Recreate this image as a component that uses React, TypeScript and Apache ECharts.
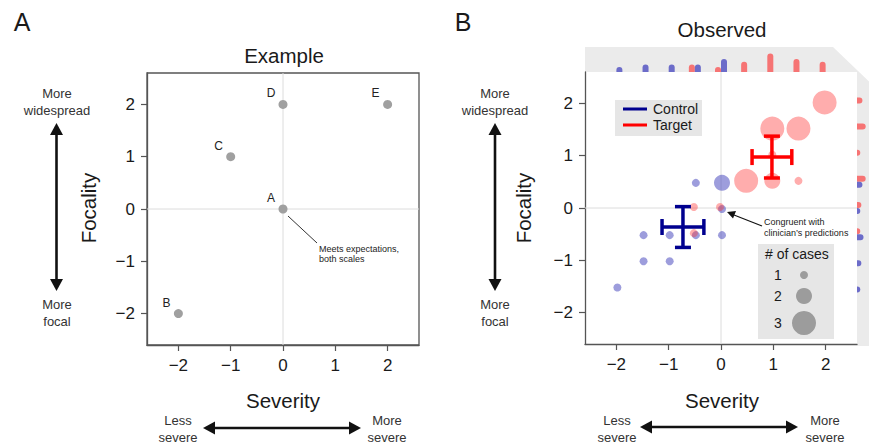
import React, { useEffect, useRef } from 'react';
import * as echarts from 'echarts';

// ---------- Panel A: Example ----------
const exampleLabels = ['A', 'B', 'C', 'D', 'E'];
const exampleSeverity = [0, -2, -1, 0, 2];
const exampleFocality = [0, -2, 1, 2, 2];

// ---------- Panel B: Observed ----------
const controlSeverity = [-2, -1.5, -1.5, -1, -1, -0.5, -0.5, 0, 0, 0];
const controlFocality = [-1.5, -0.5, -1, -0.5, -1, 0.5, -0.5, -0.5, 0.5, 0];
const controlCases = [1, 1, 1, 1, 1, 1, 1, 1, 2, 1];

const targetSeverity = [-0.5, -0.5, 0, 0.5, 1, 1, 1, 1.5, 1.5, 2];
const targetFocality = [0, -0.5, 0, 0.5, 0.5, 1, 1.5, 0.5, 1.5, 2];
const targetCases = [1, 1, 1, 3, 2, 1, 3, 1, 3, 3];

const controlSem = [0.4, 0.39];
const targetSem = [0.38, 0.4];

const tickValues = [-2, -1, 0, 1, 2];
const legendCases = [1, 2, 3];

const AX_MIN = -2.6;
const AX_MAX = 2.6;

const FONT = 'Liberation Sans';
const BLUE_PT = 'rgba(60,60,185,0.5)';
const RED_PT = 'rgba(255,50,50,0.4)';
const BLUE_BAR = '#6c6cc9';
const RED_BAR = '#f67474';
const BLUE_EB = '#00008f';
const RED_EB = '#ff0000';

const wmean = (v: number[], w: number[]) => {
  let s = 0, n = 0;
  v.forEach((x, i) => { s += x * w[i]; n += w[i]; });
  return s / n;
};

const histogram = (v: number[], w: number[]) => {
  const m = new Map<number, number>();
  v.forEach((x, i) => m.set(x, (m.get(x) || 0) + w[i]));
  return Array.from(m.entries()).sort((a, b) => a[0] - b[0]);
};

const fmt = (v: number) => (v < 0 ? '\u2212' + Math.abs(v) : String(v));

const valueAxis = (grid: number) => ({
  type: 'value',
  gridIndex: grid,
  min: AX_MIN,
  max: AX_MAX,
  axisLine: { show: true, onZero: false, lineStyle: { color: '#555', width: 1.3 } },
  axisTick: { show: true, customValues: tickValues, length: 6, lineStyle: { color: '#555', width: 1.2 } },
  axisLabel: { show: true, customValues: tickValues, formatter: fmt, fontSize: 17, color: '#1a1a1a', margin: 12, fontFamily: FONT },
  splitLine: { show: false },
});

const hiddenAxis = (grid: number, min: number, max: number) => ({
  type: 'value', gridIndex: grid, min, max, show: false,
  axisLine: { show: false }, axisTick: { show: false }, axisLabel: { show: false }, splitLine: { show: false },
});

const zeroLines = (idx: number) => ({
  type: 'custom',
  xAxisIndex: idx,
  yAxisIndex: idx,
  z: 1,
  silent: true,
  data: [[0, 0]],
  renderItem: (params: any, api: any) => {
    const p = api.coord([0, 0]);
    const cs = params.coordSys;
    return {
      type: 'group',
      children: [
        { type: 'line', shape: { x1: p[0], y1: cs.y, x2: p[0], y2: cs.y + cs.height }, style: { stroke: '#dcdcdc', lineWidth: 1 } },
        { type: 'line', shape: { x1: cs.x, y1: p[1], x2: cs.x + cs.width, y2: p[1] }, style: { stroke: '#dcdcdc', lineWidth: 1 } },
      ],
    };
  },
});

const errorBars = (data: number[][], color: string) => ({
  type: 'custom',
  xAxisIndex: 1,
  yAxisIndex: 1,
  z: 6,
  silent: true,
  data,
  renderItem: (_p: any, api: any) => {
    const mx = api.value(0), my = api.value(1), sx = api.value(2), sy = api.value(3);
    const l = api.coord([mx - sx, my]);
    const r = api.coord([mx + sx, my]);
    const t = api.coord([mx, my + sy]);
    const b = api.coord([mx, my - sy]);
    const cap = 8;
    const st = { stroke: color, lineWidth: 3.5 };
    return {
      type: 'group',
      children: [
        { type: 'line', shape: { x1: l[0], y1: l[1], x2: r[0], y2: r[1] }, style: st },
        { type: 'line', shape: { x1: t[0], y1: t[1], x2: b[0], y2: b[1] }, style: st },
        { type: 'line', shape: { x1: l[0], y1: l[1] - cap, x2: l[0], y2: l[1] + cap }, style: st },
        { type: 'line', shape: { x1: r[0], y1: r[1] - cap, x2: r[0], y2: r[1] + cap }, style: st },
        { type: 'line', shape: { x1: t[0] - cap, y1: t[1], x2: t[0] + cap, y2: t[1] }, style: st },
        { type: 'line', shape: { x1: b[0] - cap, y1: b[1], x2: b[0] + cap, y2: b[1] }, style: st },
      ],
    };
  },
});

const topHist = (data: number[][], color: string, off: number) => ({
  type: 'custom',
  xAxisIndex: 2,
  yAxisIndex: 2,
  z: 4,
  silent: true,
  data,
  renderItem: (_p: any, api: any) => {
    const base = api.coord([api.value(0), 0]);
    const top = api.coord([api.value(0), api.value(1)]);
    const w = 6;
    const h = base[1] - top[1] + 2.2;
    return { type: 'rect', shape: { x: base[0] + off - w / 2, y: base[1] - h, width: w, height: h, r: [3, 3, 0, 0] }, style: { fill: color } };
  },
});

const rightHist = (data: number[][], color: string, off: number) => ({
  type: 'custom',
  xAxisIndex: 3,
  yAxisIndex: 3,
  z: 4,
  silent: true,
  data,
  renderItem: (_p: any, api: any) => {
    const base = api.coord([0, api.value(1)]);
    const end = api.coord([api.value(0), api.value(1)]);
    const w = 6;
    const len = end[0] - base[0] + 2.2;
    return { type: 'rect', shape: { x: base[0], y: base[1] + off - w / 2, width: len, height: w, r: [0, 3, 3, 0] }, style: { fill: color } };
  },
});

const txt = (x: number, y: number, text: string, fontSize: number, extra: any = {}, rotation = 0) => ({
  type: 'text', x, y, z: 20, rotation,
  style: { text, fontSize, fontFamily: FONT, fill: '#1a1a1a', align: 'center', verticalAlign: 'middle', ...extra },
});

const vArrow = (x: number, y1: number, y2: number) => [
  { type: 'line', z: 20, shape: { x1: x, y1: y1 + 10, x2: x, y2: y2 - 10 }, style: { stroke: '#111', lineWidth: 2.6 } },
  { type: 'polygon', z: 20, shape: { points: [[x, y1], [x - 6.5, y1 + 12], [x + 6.5, y1 + 12]] }, style: { fill: '#111' } },
  { type: 'polygon', z: 20, shape: { points: [[x, y2], [x - 6.5, y2 - 12], [x + 6.5, y2 - 12]] }, style: { fill: '#111' } },
];

const hArrow = (y: number, x1: number, x2: number) => [
  { type: 'line', z: 20, shape: { x1: x1 + 10, y1: y, x2: x2 - 10, y2: y }, style: { stroke: '#111', lineWidth: 2.6 } },
  { type: 'polygon', z: 20, shape: { points: [[x1, y], [x1 + 12, y - 6.5], [x1 + 12, y + 6.5]] }, style: { fill: '#111' } },
  { type: 'polygon', z: 20, shape: { points: [[x2, y], [x2 - 12, y - 6.5], [x2 - 12, y + 6.5]] }, style: { fill: '#111' } },
];

export default function App() {
  const ref = useRef<HTMLDivElement>(null);

  useEffect(() => {
    if (!ref.current) return;
    const chart = echarts.init(ref.current, undefined, { renderer: 'svg' });

    const exampleData = exampleLabels.map((l, i) => [exampleSeverity[i], exampleFocality[i], l]);
    const controlData = controlSeverity.map((x, i) => [x, controlFocality[i], controlCases[i]]);
    const targetData = targetSeverity.map((x, i) => [x, targetFocality[i], targetCases[i]]);

    const controlErr = [[wmean(controlSeverity, controlCases), wmean(controlFocality, controlCases), controlSem[0], controlSem[1]]];
    const targetErr = [[wmean(targetSeverity, targetCases), wmean(targetFocality, targetCases), targetSem[0], targetSem[1]]];

    const ctrlSevHist = histogram(controlSeverity, controlCases);
    const tgtSevHist = histogram(targetSeverity, targetCases);
    const ctrlFocHist = histogram(controlFocality, controlCases).map(([v, c]) => [c, v]);
    const tgtFocHist = histogram(targetFocality, targetCases).map(([v, c]) => [c, v]);

    const lbl = { lineHeight: 17, fill: '#333' };
    const graphic: any[] = [
      // marginal grey band of panel B
      {
        type: 'polygon', z: 0, silent: true,
        shape: { points: [[585, 47], [833, 47], [880, 92], [880, 346], [857, 346], [857, 72], [585, 72]] },
        style: { fill: '#ebebeb' },
      },
      // panel letters and titles
      txt(22, 22, 'A', 25),
      txt(463, 22, 'B', 25),
      txt(284, 55, 'Example', 20.5),
      txt(722, 29, 'Observed', 20.5),
      // axis names
      txt(88, 208, 'Focality', 20.5, {}, Math.PI / 2),
      txt(523, 208, 'Focality', 20.5, {}, Math.PI / 2),
      txt(283, 400, 'Severity', 20.5),
      txt(722, 400, 'Severity', 20.5),
      // direction annotations panel A
      txt(57, 101.5, 'More\nwidespread', 13, lbl),
      txt(57, 312.5, 'More\nfocal', 13, lbl),
      txt(178, 428.5, 'Less\nsevere', 13, lbl),
      txt(387, 428.5, 'More\nsevere', 13, lbl),
      ...vArrow(56.5, 123, 291),
      ...hArrow(428, 203, 361),
      // direction annotations panel B
      txt(495, 101.5, 'More\nwidespread', 13, lbl),
      txt(495, 312.5, 'More\nfocal', 13, lbl),
      txt(617, 428.5, 'Less\nsevere', 13, lbl),
      txt(825, 428.5, 'More\nsevere', 13, lbl),
      ...vArrow(495, 123, 291),
      ...hArrow(427, 640, 798),
      // panel A annotation
      { type: 'line', z: 20, shape: { x1: 288, y1: 216, x2: 317, y2: 243 }, style: { stroke: '#333', lineWidth: 1 } },
      txt(319, 254, 'Meets expectations,\nboth scales', 9, { align: 'left', lineHeight: 10, fill: '#222' }),
      // panel B annotation
      { type: 'line', z: 20, shape: { x1: 762, y1: 226, x2: 734, y2: 215 }, style: { stroke: '#111', lineWidth: 1.2 } },
      { type: 'polygon', z: 20, shape: { points: [[727, 212], [736, 211], [733, 218.5]] }, style: { fill: '#111' } },
      txt(764, 227, 'Congruent with\nclinician\u2019s predictions', 9, { align: 'left', lineHeight: 11, fill: '#222' }),
      // group legend
      { type: 'rect', z: 10, shape: { x: 615, y: 100, width: 87, height: 36 }, style: { fill: '#e6e6e6' } },
      { type: 'line', z: 20, shape: { x1: 623, y1: 109, x2: 647, y2: 109 }, style: { stroke: BLUE_EB, lineWidth: 3 } },
      { type: 'line', z: 20, shape: { x1: 623, y1: 125, x2: 647, y2: 125 }, style: { stroke: RED_EB, lineWidth: 3 } },
      txt(653, 109, 'Control', 14, { align: 'left' }),
      txt(653, 125, 'Target', 14, { align: 'left' }),
      // size legend
      { type: 'rect', z: 10, shape: { x: 758, y: 244, width: 76, height: 95 }, style: { fill: '#e6e6e6' } },
      txt(765, 254, '# of cases', 14, { align: 'left' }),
    ];
    const legendY = [275, 296, 323];
    legendCases.forEach((c, i) => {
      graphic.push(txt(778, legendY[i], String(c), 14));
      graphic.push({ type: 'circle', z: 20, shape: { cx: 804, cy: legendY[i], r: 4 * c }, style: { fill: '#9c9c9c' } });
    });

    const option: any = {
      animation: false,
      backgroundColor: '#fff',
      textStyle: { fontFamily: FONT },
      graphic,
      grid: [
        { left: 147, top: 73, width: 272, height: 272, show: true, borderColor: '#555', borderWidth: 1.3, backgroundColor: 'transparent' },
        { left: 585, top: 72, width: 272, height: 272 },
        { left: 585, top: 47, width: 272, height: 25 },
        { left: 857, top: 72, width: 30, height: 272 },
      ],
      xAxis: [
        valueAxis(0),
        valueAxis(1),
        hiddenAxis(2, AX_MIN, AX_MAX),
        hiddenAxis(3, 0, 30 / 2.7),
      ],
      yAxis: [
        valueAxis(0),
        valueAxis(1),
        hiddenAxis(2, 0, 25 / 2.7),
        hiddenAxis(3, AX_MIN, AX_MAX),
      ],
      series: [
        zeroLines(0),
        {
          type: 'scatter',
          xAxisIndex: 0,
          yAxisIndex: 0,
          z: 3,
          data: exampleData,
          symbolSize: 9,
          itemStyle: { color: '#a0a0a0', opacity: 1 },
          label: {
            show: true,
            position: 'inside',
            offset: [-12, -11],
            formatter: (p: any) => p.value[2],
            fontSize: 12,
            color: '#222',
            fontFamily: FONT,
          },
        },
        zeroLines(1),
        {
          type: 'scatter',
          xAxisIndex: 1,
          yAxisIndex: 1,
          z: 3,
          data: controlData,
          symbolSize: (v: number[]) => 8 * v[2],
          symbolOffset: [1, 1],
          itemStyle: { color: BLUE_PT, opacity: 1 },
        },
        {
          type: 'scatter',
          xAxisIndex: 1,
          yAxisIndex: 1,
          z: 4,
          data: targetData,
          symbolSize: (v: number[]) => 8 * v[2],
          symbolOffset: [-1, -1],
          itemStyle: { color: RED_PT, opacity: 1 },
        },
        errorBars(controlErr, BLUE_EB),
        errorBars(targetErr, RED_EB),
        topHist(tgtSevHist, RED_BAR, -3),
        topHist(ctrlSevHist, BLUE_BAR, 3),
        rightHist(tgtFocHist, RED_BAR, -3),
        rightHist(ctrlFocHist, BLUE_BAR, 3),
      ],
    };

    chart.setOption(option);
    return () => chart.dispose();
  }, []);

  return (
    <div
      ref={ref}
      style={{ position: 'fixed', left: 0, top: 0, width: 869, height: 446, background: '#fff' }}
    />
  );
}
